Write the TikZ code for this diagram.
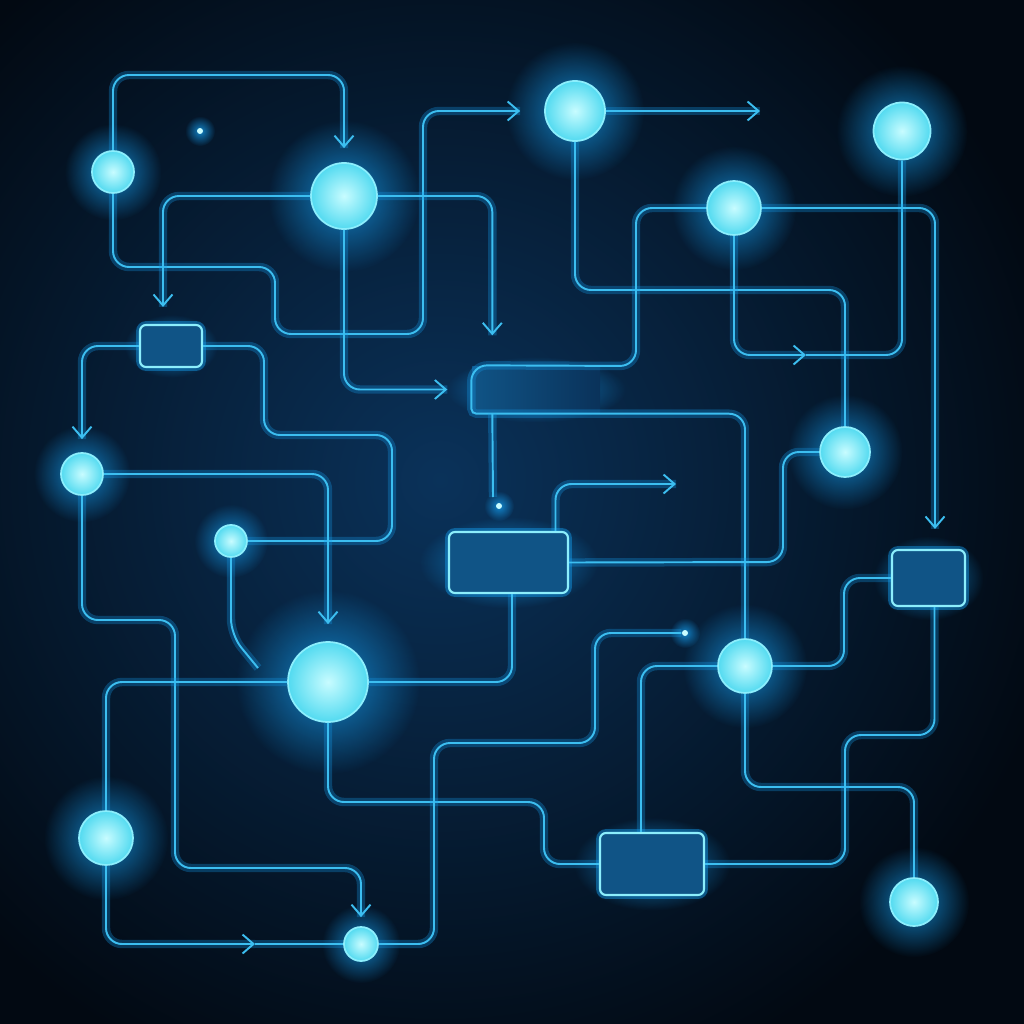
\documentclass[tikz,border=0pt]{standalone}
\usepackage{xcolor}
\usepackage{tikz}
\usetikzlibrary{arrows.meta, positioning, shadows, fadings}
\definecolor{nightnavy}{RGB}{2, 9, 18}
\definecolor{deepblue}{RGB}{10, 50, 90}
\definecolor{wireblue}{RGB}{60, 190, 240}
\definecolor{glowcyan}{RGB}{20, 155, 235}
\definecolor{ballcyan}{RGB}{82, 218, 240}
\definecolor{ballcore}{RGB}{200, 252, 255}
\definecolor{rimcyan}{RGB}{140, 238, 252}
\definecolor{boxblue}{RGB}{16, 84, 134}
\tikzfading[name=glowfade, inner color=transparent!20, outer color=transparent!100]

\begin{document}
\begin{tikzpicture}[
    x=0.1mm, y=-0.1mm,
    halo/.style={general shadow={shadow scale=2.3, fill=glowcyan, path fading=glowfade}},
    orb/.style={circle, inner sep=0pt, draw=rimcyan, line width=0.5pt, inner color=ballcore, outer color=ballcyan, halo},
    chip/.style={rectangle, rounded corners=0.6mm, inner sep=0pt, draw=rimcyan, line width=0.6pt, fill=boxblue,
        general shadow={shadow scale=1.5, fill=glowcyan, path fading=glowfade},
        preaction={draw=glowcyan, line width=2.2pt, opacity=0.45}},
    openchip/.style={rectangle, inner sep=0pt, left color=boxblue, right color=deepblue,
        general shadow={shadow scale=1.4, fill=glowcyan, path fading=glowfade}},
    spark/.style={circle, inner sep=0pt, minimum size=0.6mm, fill=ballcore, general shadow={shadow scale=5, fill=glowcyan, path fading=glowfade}},
    wire/.style={draw=wireblue, line width=0.55pt, rounded corners=1.6mm, preaction={draw=glowcyan, line width=2.4pt, opacity=0.3, -}},
    tip/.style={-{Straight Barb[length=1.1mm, width=1.9mm]}}
]
    \useasboundingbox (0,0) rectangle (1024,1024);

    % Background
    \fill[nightnavy] (0,0) rectangle (1024,1024);
    \shade[inner color=deepblue, outer color=nightnavy] (440,480) circle[radius=64mm];

    % Orbs
    \node[orb, minimum size=4.2mm] (orb1) at (113,172) {};
    \node[orb, minimum size=6.6mm] (orb2) at (344,196) {};
    \node[orb, minimum size=6.0mm] (orb3) at (575,111) {};
    \node[orb, minimum size=5.7mm] (orb4) at (902,131) {};
    \node[orb, minimum size=5.4mm] (orb5) at (734,208) {};
    \node[orb, minimum size=4.2mm] (orb6) at (82,474) {};
    \node[orb, minimum size=3.2mm] (orb7) at (231,541) {};
    \node[orb, minimum size=5.0mm] (orb8) at (845,452) {};
    \node[orb, minimum size=8.0mm] (orb9) at (328,682) {};
    \node[orb, minimum size=5.4mm] (orb10) at (745,666) {};
    \node[orb, minimum size=5.4mm] (orb11) at (106,838) {};
    \node[orb, minimum size=3.4mm] (orb12) at (361,944) {};
    \node[orb, minimum size=4.8mm] (orb13) at (914,902) {};

    % Chips
    \node[chip, minimum width=6.2mm, minimum height=4.2mm] (chip1) at (171,346) {};
    \node[openchip, minimum width=12.8mm, minimum height=4.7mm] (chip2) at (536,389.5) {};
    \node[chip, minimum width=11.9mm, minimum height=6.1mm] (chip3) at (508.5,562.5) {};
    \node[chip, minimum width=7.3mm, minimum height=5.6mm] (chip4) at (928.5,578) {};
    \node[chip, minimum width=10.4mm, minimum height=6.2mm] (chip5) at (652,864) {};

    % Sparks and loose ends
    \node[spark] (spark1) at (200,131) {};
    \node[spark] (spark2) at (499,506) {};
    \node[spark] (spark3) at (685,633) {};
    \coordinate (ray1) at (760,111);
    \coordinate (ray2) at (676,484);
    \coordinate (stub1) at (493,497);
    \coordinate (stub2) at (258,668);
    \coordinate (mid1) at (255,944);
    \coordinate (mid2) at (806,355);

    % Top left wires
    \draw[wire, tip, shorten >=1.4mm] (orb1.north) |- (344,75) -- (orb2.north);
    \draw[wire, tip, shorten >=2.4mm] (orb1.south) |- (275,267) |- (423,334) |- (orb3.west);
    \draw[wire, tip, shorten >=1.7mm] (orb2.west) -| ([xshift=-0.8mm]chip1.north);
    \draw[wire, tip, shorten >=3mm] (orb2.east) -| ([xshift=2.1mm]chip2.north west);
    \draw[wire, tip, shorten >=2.4mm] (orb2.south) |- (chip2.west);
    \draw[wire, tip, shorten >=1.3mm] (chip1.west) -| (orb6.north);
    \draw[wire] (chip1.east) -| (264,435) -| (392,541) -- (orb7.east);

    % Top right wires
    \draw[wire, tip] (orb3.east) -- (ray1);
    \draw[wire] (orb3.south) |- (845,290) -- (orb8.north);
    \draw[wire, tip] (orb5.south) |- (mid2);
    \draw[wire] (mid2) -| (orb4.south);
    \draw[wire, tip, shorten >=2mm] (orb5.east) -| ([xshift=0.65mm]chip4.north);
    \draw[wire] (orb5.west) -| (636,366) -- (chip2.north west) [rounded corners=0.5mm] -- (chip2.south west)
        [rounded corners=1.6mm] -| (orb10.north);
    \draw[wire] ([xshift=2.1mm]chip2.south west) -- (stub1);

    % Bottom left wires
    \draw[wire, tip, shorten >=1.7mm] (orb6.east) -| (orb9.north);
    \draw[wire, tip, shorten >=0.9mm] (orb6.south) |- (175,620) |- (361,868) -- (orb12.north);
    \draw[wire] (orb7.south) -- (231,635) -- (stub2);
    \draw[wire] (orb9.west) -| (orb11.north);
    \draw[wire] (orb9.east) -| ([xshift=0.35mm]chip3.south);
    \draw[wire] (orb9.south) |- (544,802) |- (chip5.west);
    \draw[wire, tip] (orb11.south) |- (mid1);
    \draw[wire] (mid1) -- (orb12.west);
    \draw[wire] (orb12.east) -| (434,743) -| (595,633) -- (spark3.west);

    % Bottom right wires
    \draw[wire, tip] ([xshift=4.7mm]chip3.north) |- (ray2);
    \draw[wire] (orb8.west) -| (783,562) -- (chip3.east);
    \draw[wire] (orb10.east) -| (844,578) -- (chip4.west);
    \draw[wire] (orb10.west) -| ([xshift=-1.1mm]chip5.north);
    \draw[wire] (orb10.south) |- (914,787) -- (orb13.north);
    \draw[wire] ([xshift=0.6mm]chip4.south) |- (845,735) |- (chip5.east);
\end{tikzpicture}
\end{document}
